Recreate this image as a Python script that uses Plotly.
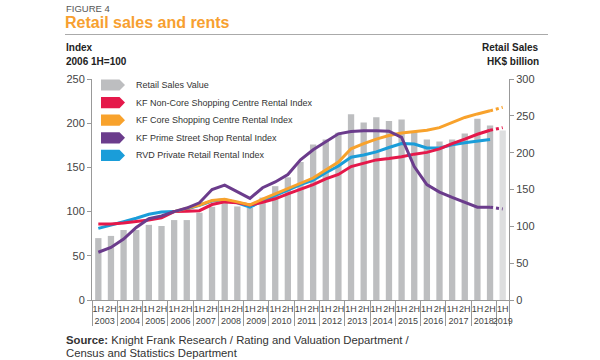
import plotly.graph_objects as go

# ---------------- data ----------------
years = [str(y) for y in range(2003, 2019) for _ in range(2)] + ["2019"]
halves = ["1H", "2H"] * 16 + ["1H"]

retail_sales = [84, 87, 95, 95, 102, 100.5, 108.5, 108.5, 118.5, 126.5, 132, 127,
                125, 139, 154.5, 166.5, 187.5, 211, 218, 227, 252, 241, 248, 243,
                245, 228, 218, 215, 218, 226, 246, 237, 230]

noncore = [86, 86, 87, 88.5, 90.5, 93, 100, 100.5, 101, 108, 111, 110,
           107.5, 110.5, 114.5, 120, 125.5, 130.5, 137, 142, 151, 155, 158.5, 160,
           162, 165, 167, 171, 177, 182, 187.5, 192]
core = [None, None, None, None, None, None, 100, 103.5, 107.5, 112.5, 114, 111,
        107.5, 114, 120, 126, 132, 138, 147, 156, 171, 177, 182, 186,
        189, 190.5, 192, 195, 201, 206.5, 210.5, 214]
prime = [54, 59.5, 69, 82, 92, 95, 100, 104, 110, 125, 130, 122.5,
         115, 127, 133.5, 142, 158.5, 170, 179.5, 188, 190.5, 191.5, 191.5, 191,
         184, 151, 130.5, 122, 116, 110.5, 105, 105]
rvd = [81, 84.5, 88.5, 92.5, 97, 99.5, 100, 103, 107, 112, 113.5, 110,
       105, 112, 118, 124.5, 130.5, 135.5, 144, 151.5, 161.5, 164, 167.5, 172.5,
       177, 176.5, 172, 172, 175.5, 178, 180, 181.5]

# dotted projections (2018 2H -> 2019 1H)
noncore_proj = [192, 195]
core_proj = [214, 218]
prime_proj = [105, 103]

series_names = ["Retail Sales Value",
                "KF Non-Core Shopping Centre Rental Index",
                "KF Core Shopping Centre Rental Index",
                "KF Prime Street Shop Rental Index",
                "RVD Private Retail Rental Index"]

# ---------------- styles ----------------
C_BAR = "#BDBEC0"
C_BAR_LIGHT = "#DDDEDF"
C_RED = "#E5184A"
C_ORANGE = "#F8A22C"
C_PURPLE = "#6B3C8C"
C_BLUE = "#1A9DD9"
FONT = "Liberation Sans, Arial, sans-serif"

n = len(retail_sales)
bar_colors = [C_BAR] * (n - 1) + [C_BAR_LIGHT]
x_all = [years, halves]
nl = len(noncore)
x_lines = [years[:nl], halves[:nl]]
x_proj = [years[nl - 1:nl + 1], halves[nl - 1:nl + 1]]

fig = go.Figure()
fig.add_trace(go.Bar(x=x_all, y=retail_sales, marker_color=bar_colors,
                     marker_line_width=0, yaxis="y", showlegend=False))

for vals, proj, col in [(rvd, None, C_BLUE), (noncore, noncore_proj, C_RED),
                        (core, core_proj, C_ORANGE), (prime, prime_proj, C_PURPLE)]:
    fig.add_trace(go.Scatter(x=x_lines, y=vals, mode="lines", yaxis="y2",
                             line=dict(color=col, width=3), showlegend=False,
                             connectgaps=False))
    if proj:
        fig.add_trace(go.Scatter(x=x_proj, y=proj, mode="lines", yaxis="y2",
                                 line=dict(color=col, width=3, dash="dot"),
                                 showlegend=False))

# plot area pixel geometry helpers
L, R, T, B = 92, 509, 79, 300


def px(x):
    return (x - L) / (R - L)


def py(y):
    return (B - y) / (B - T)


ann = []
shapes = []


def text(x, y, s, size, color="#333333", anchor="left"):
    ann.append(dict(x=px(x), y=py(y), xref="paper", yref="paper", text=s,
                    showarrow=False, xanchor=anchor, yanchor="middle",
                    font=dict(family=FONT, size=size, color=color)))


text(64, 8, "FIGURE 4", 9.5, "#555555")
text(63, 22, "<b>Retail sales and rents</b>", 16, "#F7A030")
text(64, 47, "<b>Index</b>", 10, "#222222")
text(64, 61, "<b>2006 1H=100</b>", 10, "#222222")
text(541, 47, "<b>Retail Sales</b>", 10, "#222222", anchor="right")
text(541, 61, "<b>HK$ billion</b>", 10, "#222222", anchor="right")
text(64, 340, "<b>Source:</b> Knight Frank Research / Rating and Valuation Department /", 11.3, "#333333")
text(64, 353, "Census and Statistics Department", 11.3, "#333333")

# rule under title
shapes.append(dict(type="line", xref="paper", yref="paper", x0=px(65), x1=px(548),
                   y0=py(34.5), y1=py(34.5), line=dict(color="#AAAAAA", width=1)))

# legend
leg_colors = [C_BAR, C_RED, C_ORANGE, C_PURPLE, C_BLUE]
for k, (name, col) in enumerate(zip(series_names, leg_colors)):
    cy = 85 + 17.6 * k
    x0, x1, x2 = px(101), px(119.5), px(125)
    yt, yb, ym = py(cy - 5.6), py(cy + 5.6), py(cy)
    path = f"M{x0},{yt} L{x1},{yt} L{x2},{ym} L{x1},{yb} L{x0},{yb} Z"
    shapes.append(dict(type="path", xref="paper", yref="paper", path=path,
                       fillcolor=col, line=dict(width=0), layer="above"))
    text(134, cy, name, 9, "#333333")

fig.update_layout(
    width=600, height=360,
    margin=dict(l=L, r=600 - R, t=T, b=360 - B),
    paper_bgcolor="white", plot_bgcolor="white",
    bargap=0.5,
    showlegend=False,
    font=dict(family=FONT, color="#444444"),
    xaxis=dict(type="multicategory", showgrid=False, showline=True,
               linecolor="#999999", linewidth=1, ticks="", tickangle=0,
               tickfont=dict(size=9, color="#444444"),
               showdividers=True, dividercolor="#999999", dividerwidth=1),
    yaxis=dict(side="right", range=[0, 300], dtick=50, showgrid=False,
               zeroline=False, showline=True, linecolor="#999999", linewidth=1,
               ticks="outside", ticklen=4, tickcolor="#999999",
               tickfont=dict(size=11, color="#444444")),
    yaxis2=dict(side="left", overlaying="y", range=[0, 250], dtick=50,
                showgrid=False, zeroline=False, showline=True,
                linecolor="#999999", linewidth=1, ticks="outside", ticklen=4,
                tickcolor="#999999", tickfont=dict(size=11, color="#444444")),
    annotations=ann,
    shapes=shapes,
)

fig.write_html("out.html", config={"displayModeBar": False},
               post_script="document.body.style.margin='0';document.body.style.padding='0';")
